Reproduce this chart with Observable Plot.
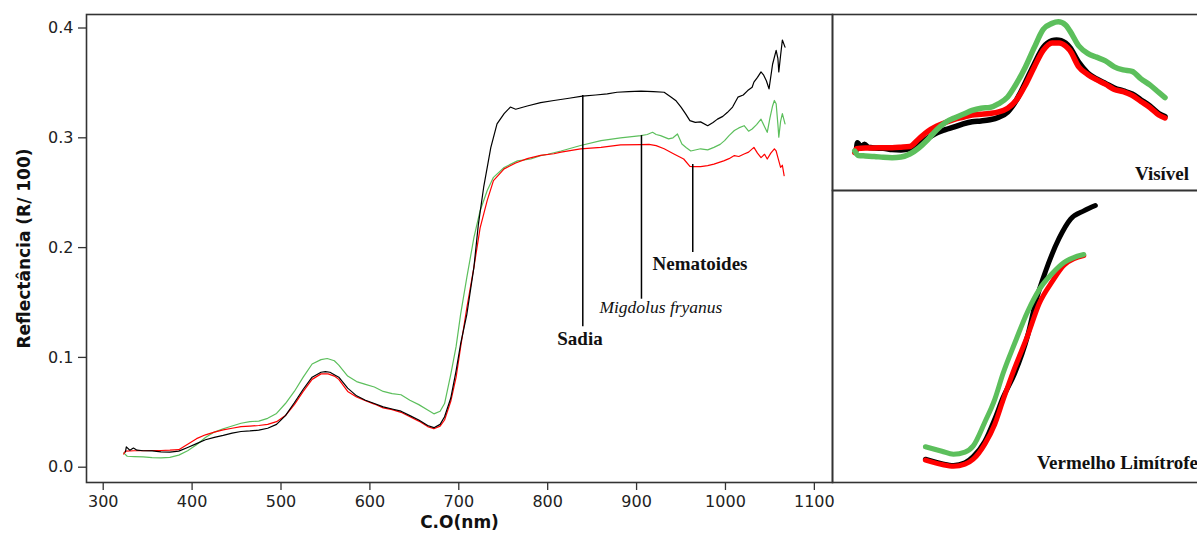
<!DOCTYPE html>
<html><head><meta charset="utf-8">
<script src="https://cdn.jsdelivr.net/npm/d3@7"></script>
<script src="https://cdn.jsdelivr.net/npm/@observablehq/plot@0.6"></script>
<style>
html,body{margin:0;padding:0;background:#fff;}
#wrap{position:relative;width:1197px;height:541px;overflow:hidden;background:#fff;}
#wrap > div{position:absolute;top:0;}
</style></head><body>
<div id="wrap"><div id="main" style="left:0;width:833px"></div><div id="vis" style="left:831px;width:400px"></div><div id="redEdge" style="left:831px;width:400px"></div></div>
<script>
// ---- Data (wavelength nm, reflectance R/100) ----
const sadiaNm = [325,326,330,334,338,345,355,365,375,385,395,405,415,425,435,445,455,465,475,485,495,505,515,525,535,545,550,555,565,575,585,595,605,615,625,635,645,655,665,672,679,684,691,697,702,709,717,722,728,736,743,751,758,764,777,792,807,824,839,854,867,878,891,905,919,931,939,944,950,955,960,966,972,980,986,991,997,1002,1008,1014,1020,1025,1030,1032,1036,1040,1043,1046,1049,1053,1057,1059,1060,1062,1064,1067];
const sadiaR  = [0.014,0.0185,0.0155,0.0175,0.0155,0.015,0.0148,0.014,0.0137,0.0146,0.018,0.0215,0.025,0.0272,0.029,0.031,0.0325,0.033,0.0338,0.0355,0.039,0.047,0.0587,0.071,0.082,0.0865,0.087,0.0865,0.082,0.072,0.065,0.061,0.058,0.055,0.053,0.051,0.047,0.043,0.038,0.036,0.039,0.046,0.063,0.088,0.112,0.139,0.182,0.221,0.255,0.291,0.3127,0.322,0.328,0.326,0.329,0.332,0.334,0.336,0.338,0.339,0.340,0.3415,0.342,0.3425,0.342,0.3415,0.337,0.334,0.328,0.322,0.3157,0.314,0.3145,0.311,0.314,0.317,0.3195,0.323,0.328,0.337,0.339,0.343,0.346,0.3507,0.355,0.360,0.357,0.352,0.3446,0.367,0.3796,0.372,0.360,0.375,0.389,0.3826];

const migNm = [323,327,335,345,355,365,375,385,395,405,415,425,435,445,455,465,475,485,495,505,515,525,535,545,552,560,565,575,585,595,605,615,625,635,645,655,665,672,679,684,691,697,702,709,717,724,732,739,751,766,781,792,800,815,837,860,882,905,912,918,922,927,936,941,946,951,956,961,972,980,987,994,999,1004,1010,1015,1021,1026,1030,1035,1040,1044,1047,1050,1053,1055,1057,1059,1060,1062,1064,1067];
const migR  = [0.013,0.010,0.0097,0.0094,0.0088,0.0085,0.009,0.011,0.015,0.0205,0.027,0.032,0.035,0.0375,0.040,0.0415,0.042,0.0445,0.049,0.058,0.069,0.082,0.094,0.098,0.099,0.097,0.093,0.083,0.078,0.0755,0.073,0.069,0.067,0.066,0.061,0.057,0.052,0.0486,0.051,0.058,0.0846,0.110,0.139,0.1727,0.209,0.2336,0.252,0.264,0.273,0.279,0.2807,0.2838,0.285,0.288,0.293,0.2974,0.300,0.302,0.303,0.305,0.303,0.302,0.299,0.300,0.3035,0.2944,0.291,0.288,0.290,0.289,0.2913,0.294,0.2974,0.302,0.3066,0.309,0.311,0.306,0.308,0.312,0.317,0.310,0.305,0.318,0.329,0.334,0.331,0.312,0.3005,0.315,0.322,0.3127];

const nemNm = [323,325,335,345,355,365,375,385,395,405,415,425,435,445,455,465,475,485,495,505,515,525,535,545,553,560,565,575,585,595,605,615,625,635,645,655,665,672,679,684,691,697,702,709,717,724,732,739,751,764,777,792,807,815,837,860,882,905,914,922,931,942,953,960,963,972,980,987,998,1004,1010,1015,1021,1026,1032,1036,1040,1044,1047,1051,1055,1057,1059,1062,1064,1066];
const nemR  = [0.012,0.0146,0.015,0.015,0.0152,0.0152,0.0155,0.016,0.021,0.026,0.0295,0.032,0.034,0.0355,0.037,0.0375,0.038,0.039,0.0415,0.047,0.057,0.069,0.080,0.085,0.085,0.083,0.080,0.069,0.064,0.0605,0.0575,0.054,0.0525,0.050,0.046,0.042,0.037,0.035,0.0374,0.043,0.060,0.082,0.109,0.145,0.182,0.218,0.243,0.261,0.2717,0.277,0.281,0.284,0.2855,0.287,0.290,0.2913,0.2935,0.2938,0.294,0.2929,0.290,0.2853,0.2807,0.274,0.2737,0.2737,0.2746,0.276,0.279,0.281,0.2838,0.283,0.2853,0.287,0.2913,0.286,0.282,0.285,0.2807,0.286,0.290,0.288,0.282,0.273,0.275,0.2655];

const seriesNames  = ["Migdolus fryanus", "Nematoides", "Sadia"];   // drawing order, main panel
const seriesColors = ["#5cbf5c", "#ff0000", "#000000"];
const insetOrder   = ["Sadia", "Nematoides", "Migdolus fryanus"];   // drawing order, insets
const insetColors  = ["#000000", "#ff0000", "#5cbf5c"];
const xTicks = [300, 400, 500, 600, 700, 800, 900, 1000, 1100];
const yTicks = [0.0, 0.1, 0.2, 0.3, 0.4];
const xLabel = "C.O(nm)";
const yLabel = "Reflectância (R/ 100)";

// leader lines and their labels (data units)
const leaderNm     = [839.5, 905.5, 963.2];
const leaderTop    = [0.3385, 0.302, 0.2757];
const leaderBottom = [0.128, 0.153, 0.1955];
const labelText    = ["Sadia", "Migdolus fryanus", "Nematoides"];
const labelNm      = [836.3, 927.4, 971.3];
const labelR       = [0.1164, 0.1456, 0.1847];

// insets
const visLabel = "Visível";            const visLabelNm = 668.6; const visLabelR = -0.0021; const visMax = 672;
const redLabel = "Vermelho Limítrofe"; const redLabelNm = 722.7; const redLabelR = 0.0391; const redMin = 655; const redMax = 759;

// ---- build tables ----
const rows = (nm, r, s) => nm.map((x, i) => ({nm: x, r: r[i], s}));
const bySeries = {
  "Sadia": rows(sadiaNm, sadiaR, "Sadia"),
  "Migdolus fryanus": rows(migNm, migR, "Migdolus fryanus"),
  "Nematoides": rows(nemNm, nemR, "Nematoides")
};
const leaders = leaderNm.map((x, i) => ({nm: x, top: leaderTop[i], bottom: leaderBottom[i]}));
const labels = labelText.map((t, i) => ({t, nm: labelNm[i], r: labelR[i]}));

const serif = "'Liberation Serif', 'DejaVu Serif', serif";
const sans = "'DejaVu Sans', Verdana, sans-serif";

const lineMarks = (names, colors, filter, sw, curve) => names.map((s, i) =>
  Plot.line(bySeries[s].filter(filter), {x: "nm", y: "r", stroke: colors[i], strokeWidth: sw, curve}));

const main = Plot.plot({
  width: 833, height: 541,
  marginLeft: 86, marginRight: 1, marginTop: 14, marginBottom: 59,
  style: {background: "transparent", maxWidth: "none", overflow: "visible", fontFamily: sans, fontSize: "16px", color: "#222"},
  x: {domain: [281.2, 1120.4]},
  y: {domain: [-0.01393, 0.4123]},
  marks: [
    Plot.axisX({ticks: xTicks, tickFormat: d3.format("d"), tickSize: 8, tickPadding: 5, label: null, stroke: "#333", strokeWidth: 1.3, fontSize: 16}),
    Plot.axisY({ticks: yTicks, tickFormat: d3.format(".1f"), tickSize: 8, tickPadding: 5, label: null, stroke: "#333", strokeWidth: 1.3, fontSize: 16}),
    ...lineMarks(seriesNames, seriesColors, () => true, 1.2, "linear"),
    Plot.ruleX(leaders, {x: "nm", y1: "top", y2: "bottom", stroke: "#000", strokeWidth: 1.5}),
    Plot.text(labels.filter(d => d.t !== "Migdolus fryanus"), {x: "nm", y: "r", text: "t", fontFamily: serif, fontWeight: "bold", fontSize: 19, fill: "#111"}),
    Plot.text(labels.filter(d => d.t === "Migdolus fryanus"), {x: "nm", y: "r", text: "t", fontFamily: serif, fontStyle: "italic", fontSize: 17.5, fill: "#111"}),
    Plot.text([xLabel], {frameAnchor: "bottom", dy: 40, lineAnchor: "middle", textAnchor: "middle", fontWeight: "bold", fontSize: 17, fill: "#111"}),
    Plot.text([yLabel], {frameAnchor: "left", dx: -62, rotate: -90, lineAnchor: "middle", textAnchor: "middle", fontWeight: "bold", fontSize: 17, fill: "#111"}),
    Plot.frame({stroke: "#333", strokeWidth: 1.6})
  ]
});
document.getElementById("main").appendChild(main);

const vis = Plot.plot({
  width: 400, height: 191,
  marginLeft: 1, marginRight: 20, marginTop: 14, marginBottom: 1,
  style: {background: "transparent", maxWidth: "none", overflow: "visible"},
  x: {domain: [298.0, 724.3], axis: null},
  y: {domain: [-0.0133, 0.1039], axis: null},
  marks: [
    ...lineMarks(insetOrder, insetColors, d => d.nm <= visMax, 5.5, "monotone-x"),
    Plot.text([visLabel], {x: [visLabelNm], y: [visLabelR], fontFamily: serif, fontWeight: "bold", fontSize: 19, fill: "#111"}),
    Plot.frame({stroke: "#333", strokeWidth: 1.6})
  ]
});
document.getElementById("vis").appendChild(vis);

const red = Plot.plot({
  width: 400, height: 483,
  marginLeft: 1, marginRight: 20, marginTop: 190, marginBottom: 1,
  style: {background: "transparent", maxWidth: "none", overflow: "visible"},
  x: {domain: [598.7, 828.4], axis: null},
  y: {domain: [0.01685, 0.3449], axis: null},
  marks: [
    ...lineMarks(insetOrder, insetColors, d => d.nm >= redMin && d.nm <= redMax, 5, "monotone-x"),
    Plot.text([redLabel], {x: [redLabelNm], y: [redLabelR], textAnchor: "start", fontFamily: serif, fontWeight: "bold", fontSize: 19, fill: "#111"}),
    Plot.frame({stroke: "#333", strokeWidth: 1.6})
  ]
});
document.getElementById("redEdge").appendChild(red);
</script>
</body></html>
